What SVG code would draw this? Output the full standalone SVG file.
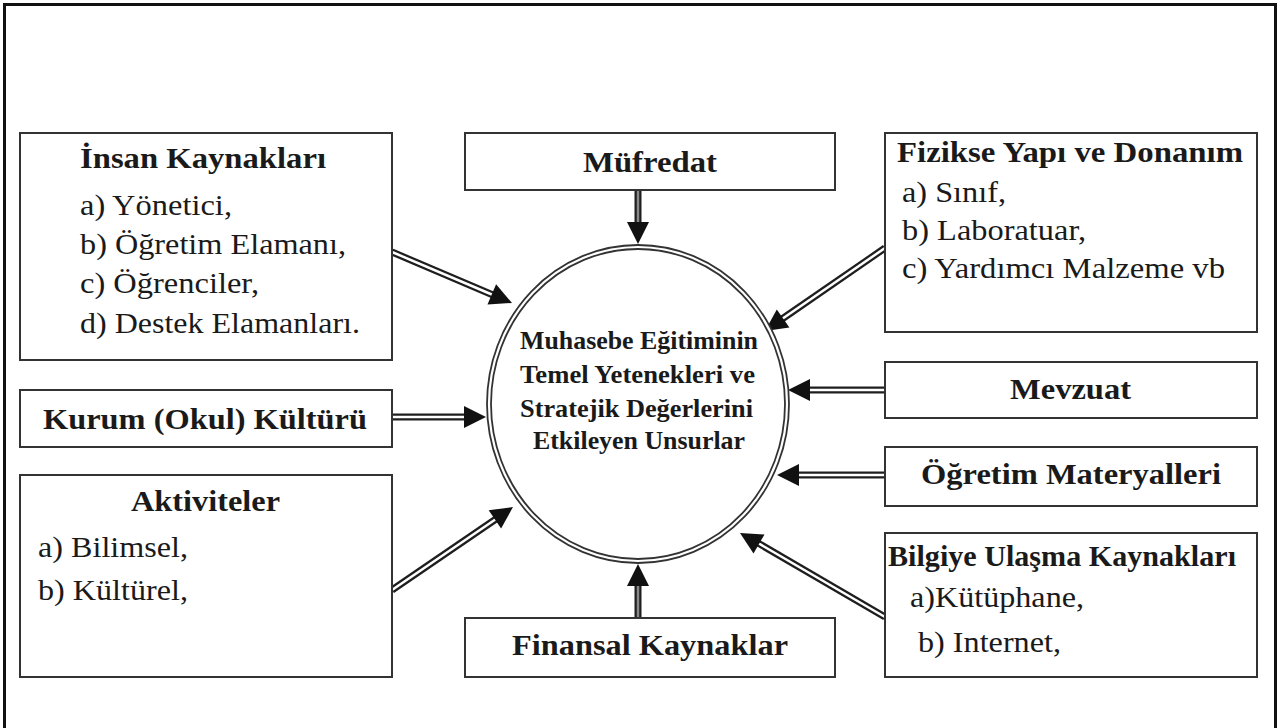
<svg xmlns="http://www.w3.org/2000/svg" width="1278" height="728" viewBox="0 0 1278 728">
<style>
.box{fill:#fff;stroke:#333;stroke-width:2}
.t{font-family:"Liberation Serif","Times New Roman",serif;fill:#1a1a1a}
.ti{font-size:30px;font-weight:bold}
.it{font-size:29px}
.ct{font-size:26px;font-weight:bold}
.so{fill:none;stroke:#1e1e1e;stroke-width:7}
.si{fill:none;stroke:#fff;stroke-width:2.5}
.sv{fill:none;stroke:#888;stroke-width:2.5}
.hd{fill:#111}
.ring{fill:#fff;stroke:#333;stroke-width:1.8}
</style>
<rect width="1278" height="728" fill="#fff"/>
<path d="M4.5,728 V4.5 H1275.5 V728" fill="none" stroke="#111" stroke-width="3"/>

<g id="connectors">
  <line class="so" x1="392" y1="252" x2="493" y2="295"/>
  <line class="si" x1="392" y1="252" x2="493" y2="295"/>
  <polygon class="hd" points="512,303 487.5,304.5 496.1,284.3"/>

  <line class="so" x1="885" y1="248" x2="782" y2="319"/>
  <line class="si" x1="885" y1="248" x2="782" y2="319"/>
  <polygon class="hd" points="765,331 776.8,309.5 789.4,327.6"/>

  <line class="so" x1="392" y1="417" x2="465" y2="417"/>
  <line class="si" x1="392" y1="417" x2="465" y2="417"/>
  <polygon class="hd" points="486,417 464,406 464,428"/>

  <line class="so" x1="885" y1="390" x2="809" y2="390"/>
  <line class="si" x1="885" y1="390" x2="809" y2="390"/>
  <polygon class="hd" points="788,390 810,379 810,401"/>

  <line class="so" x1="885" y1="475" x2="798" y2="475"/>
  <line class="si" x1="885" y1="475" x2="798" y2="475"/>
  <polygon class="hd" points="777,475 799,464 799,486"/>

  <line class="so" x1="392" y1="590" x2="496" y2="519"/>
  <line class="si" x1="392" y1="590" x2="496" y2="519"/>
  <polygon class="hd" points="513,507 501.1,528.5 488.7,510.3"/>

  <line class="so" x1="885" y1="617" x2="758" y2="543"/>
  <line class="si" x1="885" y1="617" x2="758" y2="543"/>
  <polygon class="hd" points="740,533 764.5,534.5 753.5,553.5"/>

  <line class="so" x1="638" y1="190" x2="638" y2="223"/>
  <line class="sv" x1="638" y1="190" x2="638" y2="223"/>
  <polygon class="hd" points="638,244 627,222 649,222"/>

  <line class="so" x1="638" y1="618" x2="638" y2="585"/>
  <line class="sv" x1="638" y1="618" x2="638" y2="585"/>
  <polygon class="hd" points="638,564 627,586 649,586"/>
</g>

<g id="center">
  <ellipse class="ring" cx="638" cy="404" rx="151" ry="159"/>
  <ellipse class="ring" cx="638" cy="404" rx="147" ry="155"/>
  <text class="t ct" x="520" y="349" textLength="238" lengthAdjust="spacingAndGlyphs">Muhasebe Eğitiminin</text>
  <text class="t ct" x="520" y="383" textLength="235" lengthAdjust="spacingAndGlyphs">Temel Yetenekleri ve</text>
  <text class="t ct" x="520" y="417" textLength="233" lengthAdjust="spacingAndGlyphs">Stratejik Değerlerini</text>
  <text class="t ct" x="533" y="449" textLength="212" lengthAdjust="spacingAndGlyphs">Etkileyen Unsurlar</text>
</g>

<g id="insan">
  <rect class="box" x="20" y="133" width="372" height="227"/>
  <text class="t ti" x="80" y="168" textLength="246" lengthAdjust="spacingAndGlyphs">İnsan Kaynakları</text>
  <text class="t it" x="80" y="215" textLength="152" lengthAdjust="spacingAndGlyphs">a) Yönetici,</text>
  <text class="t it" x="80" y="254" textLength="266" lengthAdjust="spacingAndGlyphs">b) Öğretim Elamanı,</text>
  <text class="t it" x="80" y="293" textLength="179" lengthAdjust="spacingAndGlyphs">c) Öğrenciler,</text>
  <text class="t it" x="80" y="333" textLength="280" lengthAdjust="spacingAndGlyphs">d) Destek Elamanları.</text>
</g>

<g id="mufredat">
  <rect class="box" x="465" y="133" width="370" height="57"/>
  <text class="t ti" x="583" y="172" textLength="134" lengthAdjust="spacingAndGlyphs">Müfredat</text>
</g>

<g id="fizikse">
  <rect class="box" x="885" y="133" width="372" height="199"/>
  <text class="t ti" x="897" y="162" textLength="346" lengthAdjust="spacingAndGlyphs">Fizikse Yapı ve Donanım</text>
  <text class="t it" x="902" y="202" textLength="104" lengthAdjust="spacingAndGlyphs">a) Sınıf,</text>
  <text class="t it" x="902" y="240" textLength="184" lengthAdjust="spacingAndGlyphs">b) Laboratuar,</text>
  <text class="t it" x="902" y="278" textLength="323" lengthAdjust="spacingAndGlyphs">c) Yardımcı Malzeme vb</text>
</g>

<g id="kurum">
  <rect class="box" x="20" y="390" width="372" height="57"/>
  <text class="t ti" x="43" y="429" textLength="324" lengthAdjust="spacingAndGlyphs">Kurum (Okul) Kültürü</text>
</g>

<g id="mevzuat">
  <rect class="box" x="885" y="362" width="372" height="56"/>
  <text class="t ti" x="1010" y="399" textLength="121" lengthAdjust="spacingAndGlyphs">Mevzuat</text>
</g>

<g id="ogretim">
  <rect class="box" x="885" y="447" width="372" height="59"/>
  <text class="t ti" x="921" y="484" textLength="300" lengthAdjust="spacingAndGlyphs">Öğretim Materyalleri</text>
</g>

<g id="aktiviteler">
  <rect class="box" x="20" y="475" width="372" height="202"/>
  <text class="t ti" x="131" y="511" textLength="149" lengthAdjust="spacingAndGlyphs">Aktiviteler</text>
  <text class="t it" x="38" y="557" textLength="150" lengthAdjust="spacingAndGlyphs">a) Bilimsel,</text>
  <text class="t it" x="38" y="600" textLength="150" lengthAdjust="spacingAndGlyphs">b) Kültürel,</text>
</g>

<g id="finansal">
  <rect class="box" x="465" y="618" width="370" height="59"/>
  <text class="t ti" x="512" y="655" textLength="276" lengthAdjust="spacingAndGlyphs">Finansal Kaynaklar</text>
</g>

<g id="bilgiye">
  <rect class="box" x="885" y="533" width="372" height="144"/>
  <text class="t ti" x="888" y="566" textLength="348" lengthAdjust="spacingAndGlyphs">Bilgiye Ulaşma Kaynakları</text>
  <text class="t it" x="910" y="607" textLength="174" lengthAdjust="spacingAndGlyphs">a)Kütüphane,</text>
  <text class="t it" x="918" y="652" textLength="143" lengthAdjust="spacingAndGlyphs">b) Internet,</text>
</g>
</svg>
